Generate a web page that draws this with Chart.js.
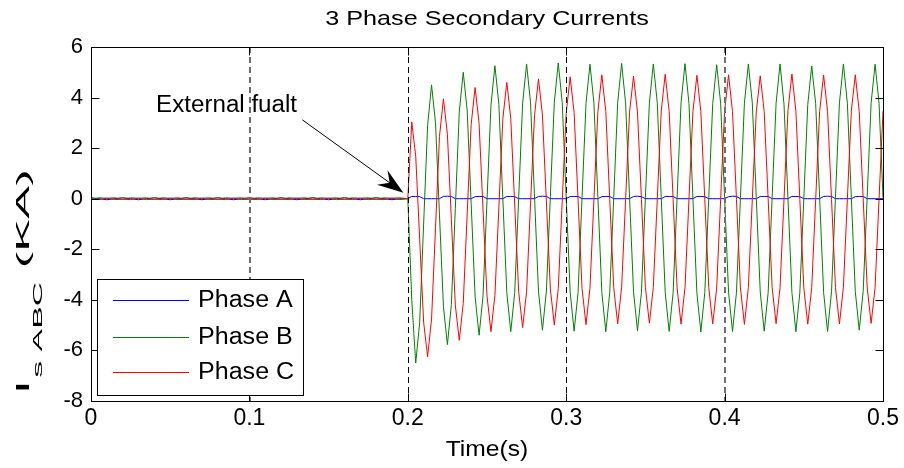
<!DOCTYPE html>
<html><head><meta charset="utf-8">
<script src="https://cdn.jsdelivr.net/npm/chart.js@4.4.0/dist/chart.umd.min.js"></script>
<style>html,body{margin:0;padding:0;background:#fff;}#wrap{width:904px;height:468px;}</style>
</head><body><div id="wrap"><canvas id="c" width="904" height="468"></canvas></div>
<script>
// ---------------- data ----------------
const chartTitle = '3 Phase Secondary Currents';
const xTitle = 'Time(s)';
const yTitleMain = 'I';
const yTitleSub = 's ABC';
const yTitleUnit = ' (KA)';
const annotationText = 'External fualt';
const seriesNames = ['Phase A', 'Phase B', 'Phase C'];
const xTicks = [0, 0.1, 0.2, 0.3, 0.4, 0.5];
const yTicks = [-8, -6, -4, -2, 0, 2, 4, 6];
const markerTimes = [0.1, 0.2, 0.3, 0.4];

const timePre = [0,0.005,0.01,0.015,0.02,0.025,0.03,0.035,0.04,0.045,0.05,0.055,0.06,0.065,0.07,0.075,0.08,0.085,0.09,0.095,
0.1,0.105,0.11,0.115,0.12,0.125,0.13,0.135,0.14,0.145,0.15,0.155,0.16,0.165,0.17,0.175,0.18,0.185,0.19,0.195];
const timeFault = [0.2,0.2025,0.205,0.2075,0.21,0.2125,0.215,0.2175,
0.22,0.2225,0.225,0.2275,0.23,0.2325,0.235,0.2375,
0.24,0.2425,0.245,0.2475,0.25,0.2525,0.255,0.2575,
0.26,0.2625,0.265,0.2675,0.27,0.2725,0.275,0.2775,
0.28,0.2825,0.285,0.2875,0.29,0.2925,0.295,0.2975,
0.3,0.3025,0.305,0.3075,0.31,0.3125,0.315,0.3175,
0.32,0.3225,0.325,0.3275,0.33,0.3325,0.335,0.3375,
0.34,0.3425,0.345,0.3475,0.35,0.3525,0.355,0.3575,
0.36,0.3625,0.365,0.3675,0.37,0.3725,0.375,0.3775,
0.38,0.3825,0.385,0.3875,0.39,0.3925,0.395,0.3975,
0.4,0.4025,0.405,0.4075,0.41,0.4125,0.415,0.4175,
0.42,0.4225,0.425,0.4275,0.43,0.4325,0.435,0.4375,
0.44,0.4425,0.445,0.4475,0.45,0.4525,0.455,0.4575,
0.46,0.4625,0.465,0.4675,0.47,0.4725,0.475,0.4775,
0.48,0.4825,0.485,0.4875,0.49,0.4925,0.495,0.4975,
0.5];

const phaseAPre = [0.04,0,-0.04,0,0.04,0,-0.04,0,0.04,0,-0.04,0,0.04,0,-0.04,0,0.04,0,-0.04,0,
0.04,0,-0.04,0,0.04,0,-0.04,0,0.04,0,-0.04,0,0.04,0,-0.04,0,0.04,0,-0.04,0];
const phaseBPre = [-0.02,0.035,0.02,-0.035,-0.02,0.035,0.02,-0.035,-0.02,0.035,0.02,-0.035,-0.02,0.035,0.02,-0.035,-0.02,0.035,0.02,-0.035,
-0.02,0.035,0.02,-0.035,-0.02,0.035,0.02,-0.035,-0.02,0.035,0.02,-0.035,-0.02,0.035,0.02,-0.035,-0.02,0.035,0.02,-0.035];
const phaseCPre = [-0.02,-0.035,0.02,0.035,-0.02,-0.035,0.02,0.035,-0.02,-0.035,0.02,0.035,-0.02,-0.035,0.02,0.035,-0.02,-0.035,0.02,0.035,
-0.02,-0.035,0.02,0.035,-0.02,-0.035,0.02,0.035,-0.02,-0.035,0.02,0.035,-0.02,-0.035,0.02,0.035,-0.02,-0.035,0.02,0.035];

const phaseAFault = [0,0.09,0.09,0.08,0,0,0,0,
0,0.09,0.1,0.09,0,0,0,0,
0,0.08,0.09,0.09,0,0,0,0,
0,0.09,0.09,0.08,0,0,0,0,
0,0.09,0.1,0.09,0,0,0,0,
0,0.09,0.09,0.09,0,0,0,0,
0,0.08,0.09,0.09,0,0,0,0,
0,0.09,0.1,0.08,0,0,0,0,
0,0.09,0.09,0.09,0,0,0,0,
0,0.09,0.09,0.08,0,0,0,0,
0,0.08,0.1,0.09,0,0,0,0,
0,0.09,0.09,0.09,0,0,0,0,
0,0.09,0.09,0.08,0,0,0,0,
0,0.09,0.1,0.09,0,0,0,0,
0,0.08,0.09,0.09,0,0,0,0,
0];
const phaseBFault = [0,-4.0,-6.5,-4.89,-1.0,2.89,4.5,3.0,
-0.64,-4.27,-5.77,-4.19,-0.39,3.42,5.0,3.48,
-0.2,-3.88,-5.4,-3.84,-0.07,3.7,5.26,3.72,
0,-3.72,-5.26,-3.71,0.03,3.78,5.33,3.79,
0.07,-3.66,-5.2,-3.65,0.09,3.82,5.37,3.8,
0.05,-3.69,-5.24,-3.7,0.04,3.77,5.32,3.79,
0.05,-3.71,-5.26,-3.71,0.04,3.8,5.35,3.79,
0.06,-3.68,-5.22,-3.7,0.04,3.78,5.33,3.79,
0.05,-3.7,-5.25,-3.72,0.03,3.79,5.34,3.77,
0.02,-3.72,-5.27,-3.71,0.04,3.76,5.3,3.78,
0.04,-3.7,-5.25,-3.7,0.04,3.78,5.33,3.78,
0.05,-3.69,-5.24,-3.71,0.03,3.77,5.33,3.74,
0.01,-3.71,-5.26,-3.72,0,3.72,5.25,3.76,
0.04,-3.7,-5.25,-3.68,0.06,3.79,5.33,3.78,
0.06,-3.66,-5.2,-3.66,0.06,3.78,5.32,3.78,
0.04];
const phaseCFault = [0,3.04,1.68,-1.6,-4.88,-6.25,-4.76,-1.15,
2.46,3.95,2.55,-0.83,-4.2,-5.6,-4.14,-0.6,
2.94,4.4,2.98,-0.43,-3.85,-5.26,-3.82,-0.33,
3.16,4.6,3.18,-0.25,-3.68,-5.1,-3.66,-0.18,
3.3,4.74,3.31,-0.13,-3.57,-5.0,-3.56,-0.09,
3.38,4.82,3.41,-0.07,-3.55,-4.98,-3.54,-0.05,
3.44,4.9,3.45,-0.04,-3.52,-4.95,-3.5,-0.04,
3.42,4.85,3.44,-0.03,-3.5,-4.92,-3.51,-0.02,
3.47,4.92,3.45,-0.03,-3.52,-4.96,-3.52,-0.03,
3.44,4.88,3.45,-0.04,-3.52,-4.95,-3.53,-0.03,
3.46,4.9,3.44,-0.03,-3.53,-4.97,-3.51,-0.02,
3.43,4.86,3.45,-0.02,-3.5,-4.94,-3.52,-0.03,
3.48,4.93,3.47,-0.03,-3.52,-4.96,-3.52,-0.03,
3.45,4.89,3.46,-0.02,-3.51,-4.95,-3.5,-0.02,
3.46,4.9,3.45,-0.01,-3.49,-4.93,-3.52,-0.03,
3.46];

// ---------------- build ----------------
const time = timePre.concat(timeFault);
const phaseA = phaseAPre.concat(phaseAFault);
const phaseB = phaseBPre.concat(phaseBFault);
const phaseC = phaseCPre.concat(phaseCFault);
const toPts = (v) => time.map((t, i) => ({x: t, y: v[i]}));
const colors = ['#0000ff', '#008000', '#ff0000'];
const FONT = '"Liberation Sans", Arial, Helvetica, sans-serif';

function stretchText(ctx, text, x, y, size, sx, align, baseline) {
  ctx.save();
  ctx.font = size + 'px ' + FONT;
  ctx.textAlign = align; ctx.textBaseline = baseline;
  ctx.translate(x, y);
  ctx.scale(sx, 1);
  ctx.fillText(text, 0, 0);
  ctx.restore();
}

const decor = {
  id: 'decor',
  afterDatasetsDraw(chart) {
    const {ctx, chartArea: a, scales: {x, y}} = chart;
    ctx.save();
    // dashed markers
    ctx.setLineDash([6, 4]);
    markerTimes.forEach(t => {
      const raw = x.getPixelForValue(t);
      const frac = raw - Math.floor(raw);
      if (frac > 0.3 && frac < 0.7) {
        ctx.strokeStyle = '#6e6e6e'; ctx.lineWidth = 2;
        const px = Math.floor(raw) + 1;
        ctx.beginPath(); ctx.moveTo(px, a.top); ctx.lineTo(px, a.bottom); ctx.stroke();
      } else {
        ctx.strokeStyle = '#000'; ctx.lineWidth = 1;
        const px = Math.round(raw) + 0.5;
        ctx.beginPath(); ctx.moveTo(px, a.top); ctx.lineTo(px, a.bottom); ctx.stroke();
      }
    });
    ctx.setLineDash([]);
    ctx.strokeStyle = '#000'; ctx.lineWidth = 1;
    // box
    const L = Math.round(a.left) + 0.5, R = Math.round(a.right) + 0.5;
    const T = Math.round(a.top) + 0.5, B = Math.round(a.bottom) + 0.5;
    ctx.strokeRect(L, T, R - L, B - T);
    // inward ticks
    const tl = 8;
    yTicks.forEach(v => {
      const py = Math.round(y.getPixelForValue(v)) + 0.5;
      ctx.beginPath();
      ctx.moveTo(L, py); ctx.lineTo(L + tl, py);
      ctx.moveTo(R, py); ctx.lineTo(R - tl, py);
      ctx.stroke();
    });
    xTicks.forEach(v => {
      const px = Math.round(x.getPixelForValue(v)) + 0.5;
      ctx.beginPath();
      ctx.moveTo(px, B); ctx.lineTo(px, B - tl);
      ctx.moveTo(px, T); ctx.lineTo(px, T + tl);
      ctx.stroke();
    });
    ctx.restore();
  },
  afterDraw(chart) {
    const {ctx, chartArea: a, scales: {x, y}} = chart;
    ctx.save();
    ctx.fillStyle = '#000';
    const cx = (a.left + a.right) / 2;
    // title and x title
    stretchText(ctx, chartTitle, cx, 19, 21, 1.2, 'center', 'middle');
    stretchText(ctx, xTitle, cx, 450, 22, 1.12, 'center', 'middle');
    // y title (rotated, elongated along its length as in the source figure)
    ctx.save();
    ctx.translate(29, 394);
    ctx.rotate(-Math.PI / 2);
    ctx.scale(2.6, 1);
    ctx.textAlign = 'left'; ctx.textBaseline = 'alphabetic';
    ctx.font = '19px ' + FONT;
    ctx.fillText(yTitleMain, 0, 0);
    let w = ctx.measureText(yTitleMain).width + 1;
    ctx.font = '13px ' + FONT;
    ctx.fillText(yTitleSub, w, 13);
    w += ctx.measureText(yTitleSub).width;
    ctx.font = '19px ' + FONT;
    ctx.fillText(yTitleUnit, w, 0);
    ctx.restore();
    // legend
    const lx = 97, ly = 279, lw = 206, lh = 116;
    ctx.fillStyle = '#fff';
    ctx.fillRect(lx, ly, lw, lh);
    ctx.strokeStyle = '#000'; ctx.lineWidth = 1;
    ctx.strokeRect(lx + 0.5, ly + 0.5, lw, lh);
    const rows = [300, 337, 372];
    seriesNames.forEach((n, i) => {
      ctx.strokeStyle = colors[i];
      ctx.beginPath(); ctx.moveTo(113, rows[i] + 0.5); ctx.lineTo(189, rows[i] + 0.5); ctx.stroke();
      ctx.fillStyle = '#000';
      stretchText(ctx, n, 198, rows[i] + 1, 23, 1.09, 'left', 'middle');
    });
    // annotation
    ctx.fillStyle = '#000';
    stretchText(ctx, annotationText, x.getPixelForValue(0.0411), y.getPixelForValue(3.44), 23, 1.05, 'left', 'alphabetic');
    const x0 = x.getPixelForValue(0.1334), y0 = y.getPixelForValue(3.12);
    const x1 = x.getPixelForValue(0.1972), y1 = y.getPixelForValue(0.24);
    const dx = x1 - x0, dy = y1 - y0, len = Math.hypot(dx, dy);
    const ux = dx / len, uy = dy / len, nx = -uy, ny = ux;
    const hl = 26, hw = 9;
    ctx.strokeStyle = '#000'; ctx.lineWidth = 1;
    ctx.beginPath(); ctx.moveTo(x0, y0); ctx.lineTo(x1 - ux * hl * 0.6, y1 - uy * hl * 0.6); ctx.stroke();
    ctx.beginPath();
    ctx.moveTo(x1, y1);
    ctx.lineTo(x1 - ux * hl + nx * hw, y1 - uy * hl + ny * hw);
    ctx.lineTo(x1 - ux * hl * 0.65, y1 - uy * hl * 0.65);
    ctx.lineTo(x1 - ux * hl - nx * hw, y1 - uy * hl - ny * hw);
    ctx.closePath();
    ctx.fill();
    ctx.restore();
  }
};

new Chart(document.getElementById('c'), {
  type: 'line',
  data: {
    datasets: [
      {label: seriesNames[0], data: toPts(phaseA), borderColor: colors[0], order: 3},
      {label: seriesNames[1], data: toPts(phaseB), borderColor: colors[1], order: 2},
      {label: seriesNames[2], data: toPts(phaseC), borderColor: colors[2], order: 1}
    ]
  },
  options: {
    responsive: false,
    animation: false,
    devicePixelRatio: 1,
    layout: {padding: {top: 47, right: 21, left: 0, bottom: 0}},
    elements: {line: {borderWidth: 1, tension: 0, fill: false}, point: {radius: 0}},
    plugins: {legend: {display: false}, tooltip: {enabled: false}, title: {display: false}},
    scales: {
      x: {
        type: 'linear', min: 0, max: 0.5,
        afterBuildTicks: s => { s.ticks = xTicks.map(v => ({value: v})); },
        afterFit: s => { s.height = 67; },
        grid: {display: false, drawTicks: false}, border: {display: false},
        ticks: {color: '#000', padding: 4, maxRotation: 0, font: {family: FONT, size: 23},
          callback: v => String(v)}
      },
      y: {
        min: -8, max: 6,
        afterBuildTicks: s => { s.ticks = yTicks.map(v => ({value: v})); },
        afterFit: s => { s.width = 91; },
        grid: {display: false, drawTicks: false}, border: {display: false},
        ticks: {color: '#000', padding: 8, font: {family: FONT, size: 22}, callback: v => String(v)}
      }
    }
  },
  plugins: [decor]
});
</script></body></html>
